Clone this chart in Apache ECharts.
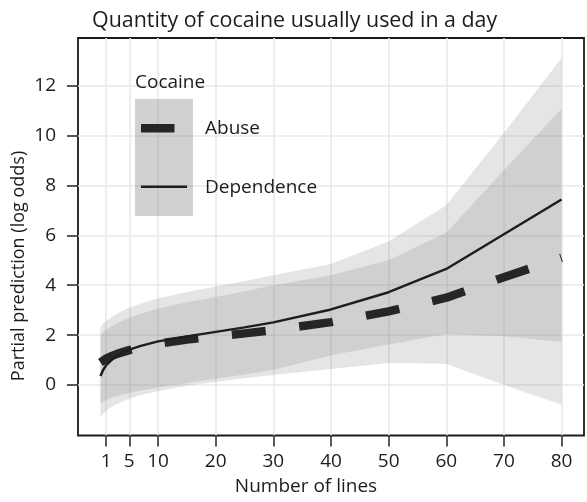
<!DOCTYPE html>
<html>
<head>
<meta charset="utf-8">
<script src="https://cdn.jsdelivr.net/npm/echarts@6/dist/echarts.min.js"></script>
<style>
  html, body { margin: 0; padding: 0; background: #ffffff; }
  #chart { width: 587px; height: 502px; }
</style>
</head>
<body>
<div id="chart"></div>
<script>
// Number of lines at which the partial predictions were evaluated
const numLines = [0, 0.5, 1, 2, 3, 4, 5, 7, 10, 15, 20, 25, 30, 40, 50, 60, 70, 80];

// Partial prediction (log odds) for each diagnosis
const dependence = [0.36, 0.62, 0.80, 1.02, 1.18, 1.31, 1.42, 1.57, 1.75, 1.95, 2.13, 2.31, 2.51, 3.03, 3.72, 4.65, 6.04, 7.43];
const abuse      = [0.90, 0.98, 1.06, 1.17, 1.26, 1.33, 1.40, 1.52, 1.66, 1.82, 1.95, 2.07, 2.20, 2.52, 2.95, 3.50, 4.32, 5.10];

// Confidence bands
const dependenceUpper = [2.33, 2.47, 2.58, 2.74, 2.87, 3.00, 3.10, 3.27, 3.47, 3.73, 3.95, 4.17, 4.40, 4.85, 5.75, 7.20, 10.10, 13.10];
const dependenceLower = [-0.75, -0.67, -0.60, -0.50, -0.43, -0.37, -0.32, -0.22, -0.10, 0.08, 0.25, 0.42, 0.60, 1.19, 1.62, 2.05, 1.95, 1.72];
const abuseUpper = [2.00, 2.12, 2.22, 2.37, 2.49, 2.60, 2.70, 2.87, 3.07, 3.32, 3.53, 3.76, 4.00, 4.40, 5.00, 6.10, 8.60, 11.07];
const abuseLower = [-1.27, -1.14, -1.02, -0.86, -0.74, -0.64, -0.55, -0.40, -0.25, -0.02, 0.12, 0.27, 0.40, 0.64, 0.88, 0.85, 0.00, -0.78];

// Tick labels
const xTicks = [1, 5, 10, 20, 30, 40, 50, 60, 70, 80];
const yTicks = [0, 2, 4, 6, 8, 10, 12];

const FONT = '"Open Sans", "Noto Sans", sans-serif';
const INK = '#1c1c1c';
const BAND = 'rgba(127,127,127,0.2)';

const pairs = ys => numLines.map((x, i) => [x, ys[i]]);

// A confidence band drawn as one polygon: upper edge left to right, lower edge back
function bandSeries(lower, upper) {
  return {
    type: 'custom',
    silent: true,
    z: 1,
    data: [[numLines[0], lower[0]]],
    renderItem: (params, api) => {
      const top = numLines.map((x, i) => api.coord([x, upper[i]]));
      const bottom = numLines.map((x, i) => api.coord([x, lower[i]])).reverse();
      return {
        type: 'polygon',
        shape: { points: top.concat(bottom) },
        style: { fill: BAND }
      };
    }
  };
}

const chart = echarts.init(document.getElementById('chart'), null, { renderer: 'canvas' });

chart.setOption({
  animation: false,
  backgroundColor: '#ffffff',
  grid: {
    left: 78, right: 3, top: 38, bottom: 66.5,
    show: true, borderColor: '#1a1a1a', borderWidth: 1.8, backgroundColor: 'transparent'
  },
  xAxis: {
    type: 'value', min: -3.9, max: 83.9,
    axisLine: { show: false, onZero: false },
    axisTick: { show: true, customValues: xTicks, length: 11, lineStyle: { color: '#222', width: 1.5 } },
    axisLabel: { customValues: xTicks, margin: 17, color: INK, fontSize: 19, fontFamily: FONT },
    splitLine: { show: true, lineStyle: { color: '#e9e9e9', width: 1.6 } }
  },
  yAxis: {
    type: 'value', min: -2.02, max: 13.9,
    axisLine: { show: false, onZero: false },
    axisTick: { show: true, customValues: yTicks, length: 11, lineStyle: { color: '#222', width: 1.5 } },
    axisLabel: { customValues: yTicks, margin: 22, color: INK, fontSize: 19, fontFamily: FONT },
    splitLine: { show: true, lineStyle: { color: '#e9e9e9', width: 1.6 } }
  },
  series: [
    bandSeries(dependenceLower, dependenceUpper),
    bandSeries(abuseLower, abuseUpper),
    {
      name: 'Abuse', type: 'line', data: pairs(abuse), symbol: 'none', z: 3,
      lineStyle: { color: '#262626', width: 8.5, type: [34, 33.75], cap: 'butt' }
    },
    {
      name: 'Dependence', type: 'line', data: pairs(dependence), symbol: 'none', z: 4,
      lineStyle: { color: '#1e1e1e', width: 2.5 }
    }
  ],
  graphic: [
    { type: 'text', x: 92, y: 21, style: { text: 'Quantity of cocaine usually used in a day', font: '21.4px ' + FONT, fill: INK, verticalAlign: 'middle' } },
    { type: 'text', x: 306, y: 487, style: { text: 'Number of lines', font: '19px ' + FONT, fill: INK, align: 'center', verticalAlign: 'middle' } },
    { type: 'text', x: 19, y: 266, rotation: Math.PI / 2, style: { text: 'Partial prediction (log odds)', font: '18px ' + FONT, fill: INK, align: 'center', verticalAlign: 'middle' } },
    // legend
    { type: 'text', x: 135, y: 83, z: 10, style: { text: 'Cocaine', font: '19px ' + FONT, fill: INK, verticalAlign: 'middle' } },
    { type: 'rect', z: 5, shape: { x: 135, y: 99, width: 58, height: 58.5 }, style: { fill: 'rgba(127,127,127,0.36)' } },
    { type: 'rect', z: 5, shape: { x: 135, y: 157.5, width: 58, height: 58.5 }, style: { fill: 'rgba(127,127,127,0.36)' } },
    { type: 'line', z: 10, shape: { x1: 141, y1: 128.3, x2: 174.5, y2: 128.3 }, style: { stroke: '#262626', lineWidth: 8.5, lineCap: 'butt' } },
    { type: 'line', z: 10, shape: { x1: 141, y1: 186.7, x2: 187, y2: 186.7 }, style: { stroke: '#1e1e1e', lineWidth: 2.5 } },
    { type: 'text', x: 205, y: 129, z: 10, style: { text: 'Abuse', font: '19px ' + FONT, fill: INK, verticalAlign: 'middle' } },
    { type: 'text', x: 205, y: 188, z: 10, style: { text: 'Dependence', font: '19px ' + FONT, fill: INK, verticalAlign: 'middle' } }
  ]
});
</script>
</body>
</html>
